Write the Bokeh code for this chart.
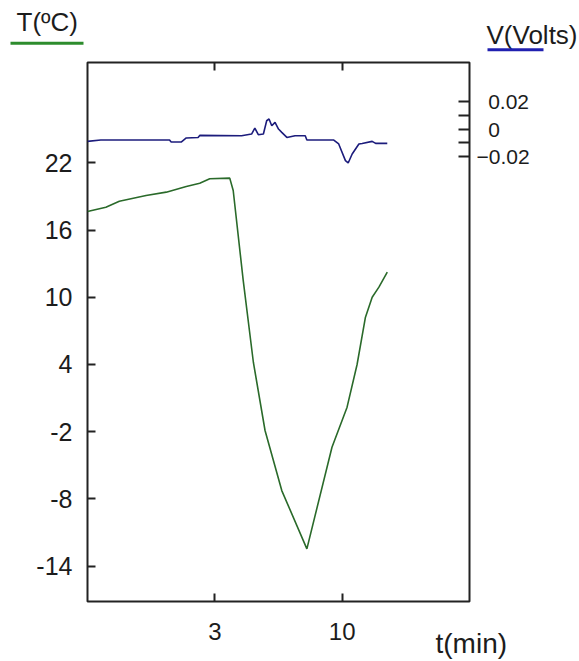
from bokeh.plotting import figure
from bokeh.layouts import column
from bokeh.models import Range1d, LinearAxis, FixedTicker
from bokeh.core.properties import value
from bokeh.embed import file_html
from bokeh.resources import INLINE

# --- data ---
t_temp = [-4.0, -2.99, -2.25, -0.78, 0.33, 1.43, 2.17, 2.72, 3.82, 4.01, 4.56,
          5.12, 5.76, 6.68, 8.06, 9.44, 10.27, 10.82, 11.28, 11.65, 12.02, 12.48]
temp = [17.65, 18.04, 18.57, 19.08, 19.38, 19.88, 20.18, 20.57, 20.63, 19.53, 11.50,
        4.18, -1.89, -7.25, -12.45, -3.38, 0.19, 4.0, 8.22, 10.0, 10.9, 12.24]

t_volt = [-4.0, -3.27, 0.51, 0.60, 1.15, 1.43, 2.08, 2.17, 4.47, 5.02, 5.20, 5.39,
          5.67, 5.85, 5.98, 6.13, 6.31, 6.50, 6.68, 6.96, 7.41, 7.97, 8.06, 9.54,
          9.81, 10.18, 10.33, 10.55, 10.92, 11.10, 11.65, 11.84, 12.48]
volt = [-0.0091, -0.0081, -0.0081, -0.0096, -0.0096, -0.0066, -0.0062, -0.0047,
        -0.0049, -0.0037, 0.0007, -0.0042, -0.0037, 0.0061, 0.0074, 0.0024, 0.0049,
        0.0, -0.0025, -0.0062, -0.0049, -0.0049, -0.0081, -0.0081, -0.011, -0.0233,
        -0.025, -0.0184, -0.011, -0.0106, -0.0091, -0.0106, -0.0106]

t_ticks = [3, 10]
t_tick_labels = ["3", "10"]
temp_ticks = [-14, -8, -2, 4, 10, 16, 22]
volt_ticks = [-0.02, 0, 0.02]
volt_minor_ticks = [-0.01, 0.01]
volt_tick_labels = {0.02: "\u20070.02", 0: "\u20070", -0.02: "\u22120.02"}

T_RANGE = (-17.15, 30.95)
V_RANGE = (-0.348, 0.049)
X_RANGE = (-4, 17)

# --- layout constants ---
FONT = "Liberation Sans"
TXT = "#1c1c1c"
W = 579
H_TOP, H_MAIN, H_BOT = 58, 547, 56
BL, BR, BT, BB = 87, 110, 4, 4
TICK = "#222222"

# ---------------- main chart ----------------
p = figure(width=W, height=H_MAIN, output_backend="svg", toolbar_location=None,
           x_range=Range1d(*X_RANGE), y_range=Range1d(*T_RANGE),
           min_border_left=BL, min_border_right=BR,
           min_border_top=BT, min_border_bottom=BB, frame_align=False)
p.extra_y_ranges = {"v": Range1d(*V_RANGE)}
p.grid.visible = False
p.outline_line_color = "#222222"
p.outline_line_width = 2
p.background_fill_color = "white"
p.border_fill_color = "white"

ya = p.yaxis[0]
ya.ticker = FixedTicker(ticks=temp_ticks, minor_ticks=[])
ya.major_label_overrides = {t: str(t) for t in temp_ticks}
ya.axis_line_color = None
ya.major_tick_in = 8
ya.major_tick_out = 0
ya.major_tick_line_color = TICK
ya.major_tick_line_width = 2
ya.minor_tick_line_color = None
ya.major_label_standoff = 15
ya.major_label_text_font = FONT
ya.major_label_text_font_size = "25px"
ya.major_label_text_color = TXT


def ticks_only(ax):
    ax.ticker = FixedTicker(ticks=t_ticks, minor_ticks=[])
    ax.major_label_overrides = {t: "" for t in t_ticks}
    ax.major_label_text_font_size = "1px"
    ax.major_label_standoff = 0
    ax.axis_line_color = None
    ax.major_tick_in = 8
    ax.major_tick_out = 0
    ax.major_tick_line_color = TICK
    ax.major_tick_line_width = 2
    ax.minor_tick_line_color = None


ticks_only(p.xaxis[0])
top = LinearAxis()
ticks_only(top)
p.add_layout(top, "above")

va = LinearAxis(y_range_name="v",
                ticker=FixedTicker(ticks=volt_ticks, minor_ticks=volt_minor_ticks),
                major_label_overrides=volt_tick_labels)
va.axis_line_color = None
va.major_tick_in = 11
va.major_tick_out = 0
va.minor_tick_in = 11
va.minor_tick_out = 0
va.major_tick_line_color = TICK
va.minor_tick_line_color = TICK
va.major_tick_line_width = 2
va.minor_tick_line_width = 2
va.major_label_standoff = 7
va.major_label_text_font = FONT
va.major_label_text_font_size = "21px"
va.major_label_text_color = TXT
p.add_layout(va, "right")

p.line(t_temp, temp, line_color="#2a6a2a", line_width=1.6)
p.line(t_volt, volt, y_range_name="v", line_color="#1c1c7c", line_width=1.6)


def strip(height, x_range, y_range):
    f = figure(width=W, height=height, output_backend="svg", toolbar_location=None,
               x_range=x_range, y_range=y_range, min_border=0, frame_align=False,
               x_axis_location=None, y_axis_location=None)
    f.grid.visible = False
    f.outline_line_color = None
    f.background_fill_color = "white"
    f.border_fill_color = "white"
    return f


# ---------------- top strip: axis titles with coloured underlines ----------------
top_fig = strip(H_TOP, Range1d(0, W), Range1d(H_TOP, 0))
top_fig.text(x=[16, 486], y=[21, 34], text=["T(ºC)", "V(Volts)"],
             text_font=value(FONT), text_font_size="26px", text_color=TXT,
             text_baseline="alphabetic", text_align="left")
top_fig.segment(x0=[10], y0=[42.7], x1=[83], y1=[42.7], line_color="#2d8c2d", line_width=3)
top_fig.segment(x0=[487], y0=[49.3], x1=[543], y1=[49.3], line_color="#2020b0", line_width=3)

# ---------------- bottom strip: time tick labels and axis title ----------------
ppu = (W - BL - BR) / (X_RANGE[1] - X_RANGE[0])
bx_range = Range1d(X_RANGE[0] - BL / ppu, X_RANGE[1] + BR / ppu)
y0 = H_TOP + H_MAIN
bot_fig = strip(H_BOT, bx_range, Range1d(y0 + H_BOT, y0))
bot_fig.text(x=t_ticks, y=[631] * len(t_ticks), text=t_tick_labels,
             text_font=value(FONT), text_font_size="24px", text_color=TXT,
             text_baseline="alphabetic", text_align="center")
bot_fig.text(x=[X_RANGE[0] + (435 - BL) / ppu], y=[643], text=["t(min)"],
             text_font=value(FONT), text_font_size="28px", text_color=TXT,
             text_baseline="alphabetic", text_align="left")

layout = column(top_fig, p, bot_fig, spacing=0)
open("out.html", "w").write(file_html(layout, INLINE))
